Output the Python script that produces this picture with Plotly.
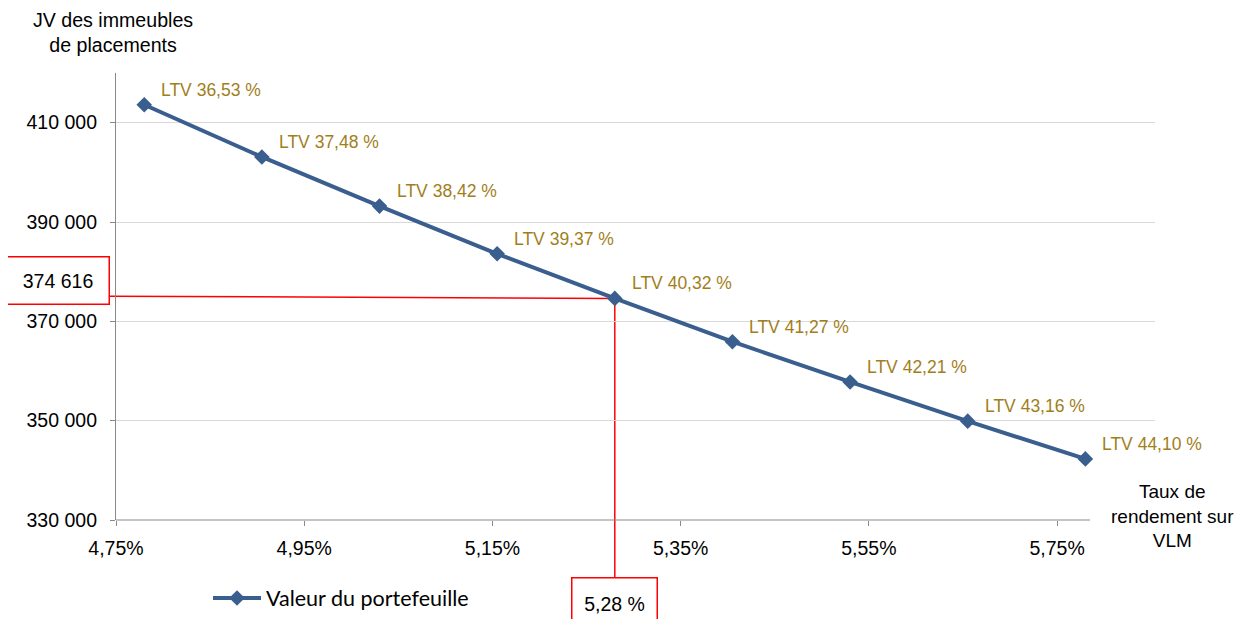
import plotly.graph_objects as go

# ---- data ----
rates = [4.78, 4.905, 5.03, 5.155, 5.28, 5.405, 5.53, 5.655, 5.78]
values = [413600, 403100, 393200, 383600, 374616, 365900, 357800, 349900, 342300]
ltv_labels = ["LTV 36,53 %", "LTV 37,48 %", "LTV 38,42 %", "LTV 39,37 %", "LTV 40,32 %",
              "LTV 41,27 %", "LTV 42,21 %", "LTV 43,16 %", "LTV 44,10 %"]
y_ticks = [330000, 350000, 370000, 390000, 410000]
x_ticks = [4.75, 4.95, 5.15, 5.35, 5.55, 5.75]
x_tick_labels = ["4,75%", "4,95%", "5,15%", "5,35%", "5,55%", "5,75%"]
hl_rate = 5.28
hl_value = 374616
hl_value_text = "374 616"
hl_rate_text = "5,28 %"
series_name = "Valeur du portefeuille"

# ---- style / layout constants ----
BLUE = "#3A5F8F"
GOLD = "#A17E1B"
RED = "#FF0000"
GRID = "#D9D9D9"
AXIS = "#898989"
FONT = "Liberation Sans, Arial, sans-serif"
OFF = 8  # page body margin of the browser
W, H = 1243 - OFF, 619 - OFF
ML, MT = 116 - OFF, 73 - OFF
MR = W - (1155 - OFF)
MB = H - (520 - OFF)
X_MIN, X_MAX = 4.75, 5.854
X_AXIS_END = 5.785
Y_MIN, Y_MAX = 330000, 420000
PW = W - ML - MR
PH = H - MT - MB


def xpaper(v):
    return (v - X_MIN) / (X_MAX - X_MIN)


def ypaper(v):
    return (v - Y_MIN) / (Y_MAX - Y_MIN)


def px2paper_x(px):  # px in reference-page pixels
    return (px - OFF - ML) / PW


def px2paper_y(py):
    return (H - MB - (py - OFF)) / PH


fig = go.Figure()
fig.add_trace(go.Scatter(
    x=rates, y=values, mode="lines+markers", name=series_name,
    line=dict(color=BLUE, width=4),
    marker=dict(symbol="diamond", size=12, color=BLUE),
    hoverinfo="x+y",
))

annotations = []
for r, v, t in zip(rates, values, ltv_labels):
    annotations.append(dict(
        x=r, y=v, xref="x", yref="y", text=t, showarrow=False,
        xanchor="left", yanchor="middle", xshift=15, yshift=15,
        font=dict(family=FONT, size=17.5, color=GOLD),
    ))

# axis titles
annotations.append(dict(
    x=px2paper_x(113), y=px2paper_y(33), xref="paper", yref="paper",
    text="JV des immeubles<br>de placements", showarrow=False,
    xanchor="center", yanchor="middle", align="center",
    font=dict(family=FONT, size=19.6, color="#000000"),
))
annotations.append(dict(
    x=px2paper_x(1172), y=px2paper_y(516), xref="paper", yref="paper",
    text="Taux de<br>rendement sur<br>VLM", showarrow=False,
    xanchor="center", yanchor="middle", align="center",
    font=dict(family=FONT, size=19, color="#000000"),
))

# highlight boxes
box_v_center_px = 57.5
box_v_w = 101
annotations.append(dict(
    x=px2paper_x(box_v_center_px), y=px2paper_y(280.5), xref="paper", yref="paper",
    text=hl_value_text, showarrow=False, xanchor="center", yanchor="middle",
    width=box_v_w, height=46, borderpad=0, bordercolor=RED, borderwidth=1.5,
    bgcolor="white", font=dict(family=FONT, size=19.5, color="#000000"),
))
box_r_top_px = 577
annotations.append(dict(
    x=hl_rate, y=px2paper_y(603), xref="x", yref="paper",
    text=hl_rate_text, showarrow=False, xanchor="center", yanchor="middle",
    width=84, height=50, borderpad=0, bordercolor=RED, borderwidth=1.5,
    bgcolor="white", font=dict(family=FONT, size=19.5, color="#000000"),
))

shapes = [
    # x-axis line (ends before the grid)
    dict(type="line", xref="x", yref="paper", x0=X_MIN, x1=X_AXIS_END, y0=0, y1=0,
         line=dict(color=AXIS, width=1.2), layer="above"),
    # horizontal red guide
    dict(type="line", xref="paper", yref="paper",
         x0=px2paper_x(box_v_center_px + box_v_w / 2 + 1), x1=xpaper(hl_rate),
         y0=ypaper(hl_value) + 0.005, y1=ypaper(hl_value),
         line=dict(color=RED, width=1.5), layer="below"),
    # vertical red guide
    dict(type="line", xref="x", yref="paper", x0=hl_rate, x1=hl_rate,
         y0=ypaper(hl_value), y1=px2paper_y(box_r_top_px),
         line=dict(color=RED, width=1.5), layer="below"),
]

fig.update_layout(
    width=W, height=H,
    margin=dict(l=ML, r=MR, t=MT, b=MB, pad=0, autoexpand=False),
    paper_bgcolor="white", plot_bgcolor="white",
    separators=", ",
    font=dict(family=FONT, size=19, color="#000000"),
    showlegend=True,
    legend=dict(
        orientation="h", x=px2paper_x(208), y=px2paper_y(598),
        xanchor="left", yanchor="middle",
        font=dict(family="Lato, Open Sans, sans-serif", size=21.5, color="#000000"),
        itemwidth=48, bgcolor="rgba(0,0,0,0)",
    ),
    xaxis=dict(
        range=[X_MIN, X_MAX], tickvals=x_ticks, ticktext=x_tick_labels,
        showgrid=False, zeroline=False, showline=False, automargin=False,
        ticks="outside", ticklen=5, tickcolor=AXIS, tickwidth=1.2,
        ticklabelstandoff=6,
        tickfont=dict(family=FONT, size=19.5, color="#000000"),
    ),
    yaxis=dict(
        range=[Y_MIN, Y_MAX], tickvals=y_ticks, tickformat=",.0f", automargin=False,
        showgrid=True, gridcolor=GRID, gridwidth=1.2, zeroline=False,
        showline=True, linecolor=AXIS, linewidth=1.2,
        ticks="outside", ticklen=5, tickcolor=AXIS, tickwidth=1.2,
        ticklabelstandoff=9,
        tickfont=dict(family=FONT, size=19.5, color="#000000"),
    ),
    annotations=annotations,
    shapes=shapes,
)

fig.write_html("out.html")
